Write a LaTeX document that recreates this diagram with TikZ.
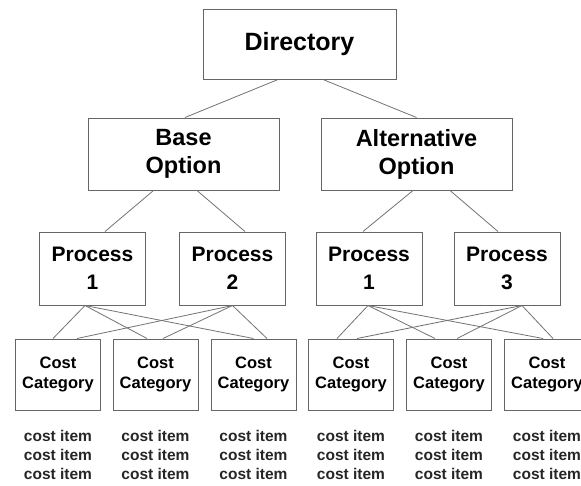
\documentclass[tikz,border=0pt]{standalone}
\usepackage{fontspec}
\setmainfont{Liberation Sans}
\usetikzlibrary{positioning}
\tikzset{>=latex}
\tikzset{
  box/.style={draw=black!60, line width=1pt, fill=white, align=center, inner sep=0pt, font=\bfseries},
  link/.style={draw=black!55, line width=0.8pt},
  items/.style={align=center, inner sep=0pt, font=\bfseries\fontsize{15.5}{19}\selectfont, text=black!85}
}

\begin{document}
\begin{tikzpicture}[x=1pt, y=-1pt]
  \useasboundingbox[fill=white] (0,0) rectangle (581,485);
  % top levels
  \node[box, minimum width=193pt, minimum height=70pt, font=\bfseries\fontsize{25}{30}\selectfont] (dir) at (299.5,44) {Directory};
  \node[box, minimum width=191pt, minimum height=72pt, font=\bfseries\fontsize{23.5}{28}\selectfont] (base) at (183.5,154) {Base\\Option};
  \node[box, minimum width=191pt, minimum height=72pt, font=\bfseries\fontsize{23.5}{28}\selectfont] (alt) at (416.5,154) {Alternative\\Option};
  % processes
  \node[box, minimum width=106pt, minimum height=73pt, font=\bfseries\fontsize{21}{28}\selectfont] (pa) at (92.5,268.5) {Process\\1};
  \node[box, minimum width=106pt, minimum height=73pt, font=\bfseries\fontsize{21}{28}\selectfont] (pb) at (232.5,268.5) {Process\\2};
  \node[box, minimum width=106pt, minimum height=73pt, font=\bfseries\fontsize{21}{28}\selectfont] (pc) at (369,268.5) {Process\\1};
  \node[box, minimum width=106pt, minimum height=73pt, font=\bfseries\fontsize{21}{28}\selectfont] (pd) at (507,268.5) {Process\\3};
  % cost categories
  \foreach \n/\x in {1/58, 2/155.5, 3/253.5, 4/351, 5/449, 6/547} {
    \node[box, minimum width=85pt, minimum height=71pt, font=\bfseries\fontsize{16.5}{20}\selectfont] (c\n) at (\x,374.5) {Cost\\Category};
    \node[items] (i\n) at (\x,455) {cost item\\cost item\\cost item};
  }
  % links
  \draw[link] ([xshift=-21.5pt]dir.south) -- ([xshift=1.5pt]base.north);
  \draw[link] ([xshift=23.5pt]dir.south) -- (alt.north);
  \draw[link] ([xshift=-30pt]base.south) -- ([xshift=12.5pt]pa.north);
  \draw[link] ([xshift=13.5pt]base.south) -- ([xshift=12.5pt]pb.north);
  \draw[link] ([xshift=-3.5pt]alt.south) -- ([xshift=-6pt]pc.north);
  \draw[link] ([xshift=33.5pt]alt.south) -- ([xshift=-9pt]pd.north);
  \draw[link] ([xshift=-7.5pt]pa.south) -- ([xshift=-5pt]c1.north);
  \draw[link] ([xshift=-7.5pt]pa.south) -- ([xshift=-8.5pt]c2.north);
  \draw[link] ([xshift=-7.5pt]pa.south) -- (c3.north);
  \draw[link] (pb.south) -- ([xshift=19pt]c1.north);
  \draw[link] (pb.south) -- ([xshift=7.5pt]c2.north);
  \draw[link] (pb.south) -- ([xshift=13.5pt]c3.north);
  \draw[link] ([xshift=-1pt]pc.south) -- ([xshift=-14pt]c4.north);
  \draw[link] ([xshift=-1pt]pc.south) -- ([xshift=-14pt]c5.north);
  \draw[link] ([xshift=-1pt]pc.south) -- ([xshift=-4pt]c6.north);
  \draw[link] ([xshift=15pt]pd.south) -- ([xshift=6pt]c4.north);
  \draw[link] ([xshift=15pt]pd.south) -- ([xshift=8pt]c5.north);
  \draw[link] ([xshift=15pt]pd.south) -- ([xshift=6pt]c6.north);
\end{tikzpicture}
\end{document}
